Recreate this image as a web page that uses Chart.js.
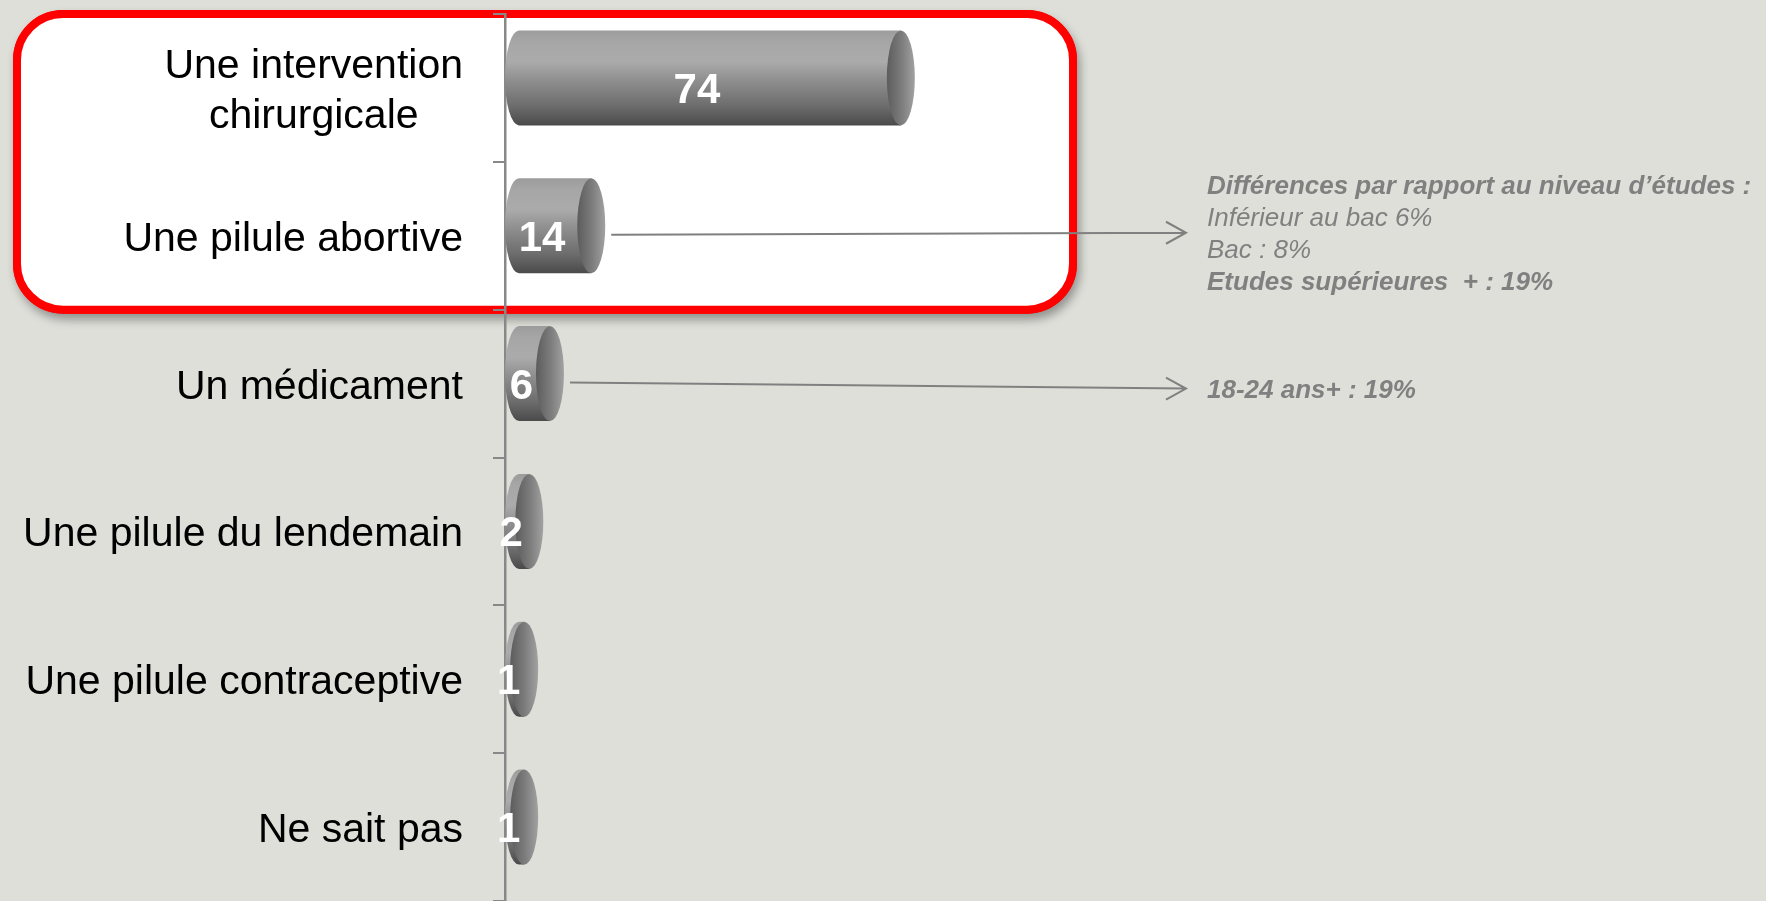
<!DOCTYPE html>
<html>
<head>
<meta charset="utf-8">
<style>
  html, body { margin: 0; padding: 0; background: #dfdfda; overflow: hidden; }
</style>
<script src="https://cdn.jsdelivr.net/npm/chart.js"></script>
</head>
<body>
<canvas id="myChart" width="1766" height="901"></canvas>
<script>
const categories = [
  ['Une intervention', 'chirurgicale'],
  'Une pilule abortive',
  'Un médicament',
  'Une pilule du lendemain',
  'Une pilule contraceptive',
  'Ne sait pas',
];
const values = [74, 14, 6, 2, 1, 1];

// side notes, pointed at by an arrow from the bar
const noteIndexes = [1, 2];
const noteLines = [
  [
    { text: 'Différences par rapport au niveau d’études :', bold: true },
    { text: 'Inférieur au bac 6%', bold: false },
    { text: 'Bac : 8%', bold: false },
    { text: 'Etudes supérieures  + : 19%', bold: true },
  ],
  [{ text: '18-24 ans+ : 19%', bold: true }],
];

const FONT = '"Liberation Sans", Arial, sans-serif';
const BG = '#dfdfda';
const GREY = '#888888';
const NOTE = '#808080';
const ctx = document.getElementById('myChart');

// red rounded box around the first two answers
const boxPlugin = {
  id: 'box',
  beforeDraw(chart) {
    const c = chart.ctx;
    const y = chart.scales.y;
    const step = y.getPixelForValue(1) - y.getPixelForValue(0);
    const top = y.getPixelForValue(0) - step / 2;
    const bot = y.getPixelForValue(1) + step / 2;
    const left = 17, right = 1073, r = 46;
    c.save();
    c.fillStyle = BG;
    c.fillRect(0, 0, chart.width, chart.height);
    c.shadowColor = 'rgba(0,0,0,0.35)';
    c.shadowBlur = 10;
    c.shadowOffsetX = 3;
    c.shadowOffsetY = 6;
    c.beginPath();
    c.roundRect(left - 4, top - 4, right - left + 8, bot - top + 8, r + 4);
    c.fillStyle = '#ff0000';
    c.fill();
    c.shadowColor = 'transparent';
    c.beginPath();
    c.roundRect(left, top, right - left, bot - top, r);
    c.fillStyle = '#ffffff';
    c.fill();
    c.lineWidth = 8;
    c.strokeStyle = '#ff0000';
    c.stroke();
    c.restore();
  },
};

// bars drawn as lying cylinders
const cylinderPlugin = {
  id: 'cylinder',
  afterDatasetsDraw(chart) {
    const c = chart.ctx;
    const meta = chart.getDatasetMeta(0);
    const rx = 14;
    c.save();
    meta.data.forEach((el) => {
      const { x, y, base, height } = el.getProps(['x', 'y', 'base', 'height'], true);
      const top = y - height / 2 - 10;
      const bot = top + height;
      const cy = top + height / 2;
      const ry = height / 2;

      const g = c.createLinearGradient(0, top, 0, bot);
      g.addColorStop(0, '#9c9c9c');
      g.addColorStop(0.12, '#a6a6a6');
      g.addColorStop(0.33, '#ababab');
      g.addColorStop(0.5, '#929292');
      g.addColorStop(0.8, '#6c6c6c');
      g.addColorStop(1, '#4a4a4a');
      c.beginPath();
      c.moveTo(base + rx, top);
      c.lineTo(x + rx, top);
      c.lineTo(x + rx, bot);
      c.lineTo(base + rx, bot);
      c.ellipse(base + rx, cy, rx, ry, 0, Math.PI / 2, Math.PI * 1.5);
      c.closePath();
      c.fillStyle = g;
      c.fill();

      const g2 = c.createLinearGradient(x, 0, x + 2 * rx, 0);
      g2.addColorStop(0, '#5c5c5c');
      g2.addColorStop(0.55, '#7e7e7e');
      g2.addColorStop(1, '#a2a2a2');
      c.beginPath();
      c.ellipse(x + rx, cy, rx, ry, 0, 0, Math.PI * 2);
      c.fillStyle = g2;
      c.fill();
    });
    c.restore();
  },
};

// category labels, value labels, notes and arrows
const textPlugin = {
  id: 'texts',
  afterDraw(chart) {
    const c = chart.ctx;
    const yScale = chart.scales.y;
    const area = chart.chartArea;
    const meta = chart.getDatasetMeta(0);
    c.save();

    const labelRight = area.left - 42;
    c.font = '41px ' + FONT;
    c.fillStyle = '#000000';
    c.textAlign = 'center';
    categories.forEach((cat, i) => {
      const lines = Array.isArray(cat) ? cat : [cat];
      const w = Math.max(...lines.map((l) => c.measureText(l).width));
      const yc = yScale.getPixelForValue(i);
      lines.forEach((l, j) => {
        const yy = yc + (j - (lines.length - 1) / 2) * 50;
        c.fillText(l, labelRight - w / 2, yy + 15);
      });
    });

    c.font = 'bold 42px ' + FONT;
    c.fillStyle = '#ffffff';
    meta.data.forEach((el, i) => {
      const { x, base } = el.getProps(['x', 'base'], true);
      const yc = yScale.getPixelForValue(i);
      c.fillText(String(values[i]), (x + base) / 2 + 1, yc + 15);
    });

    const arrowEnd = 1186;
    const slopes = [-2, 6];
    c.strokeStyle = NOTE;
    c.fillStyle = NOTE;
    c.lineWidth = 2;
    c.textAlign = 'left';
    noteIndexes.forEach((idx, n) => {
      const el = meta.data[idx];
      const { x } = el.getProps(['x'], true);
      const y0 = yScale.getPixelForValue(idx) - 1;
      const y1 = y0 + slopes[n];
      c.beginPath();
      c.moveTo(x + 34, y0);
      c.lineTo(arrowEnd, y1);
      c.moveTo(arrowEnd - 20, y1 - 11);
      c.lineTo(arrowEnd, y1);
      c.lineTo(arrowEnd - 20, y1 + 11);
      c.stroke();

      const lines = noteLines[n];
      lines.forEach((ln, j) => {
        c.font = (ln.bold ? 'italic bold ' : 'italic ') + '26px ' + FONT;
        const yy = y1 + (j - (lines.length - 1) / 2) * 32;
        c.fillText(ln.text, 1207, yy + 9);
      });
    });
    c.restore();
  },
};

new Chart(ctx, {
  type: 'bar',
  data: {
    labels: categories,
    datasets: [
      {
        data: values,
        backgroundColor: 'rgba(0,0,0,0)',
        borderWidth: 0,
        categoryPercentage: 1,
        barPercentage: 0.643,
      },
    ],
  },
  options: {
    indexAxis: 'y',
    responsive: false,
    animation: false,
    devicePixelRatio: 1,
    layout: {
      padding: { top: 14, bottom: 0, left: 0, right: 745 },
    },
    plugins: {
      legend: { display: false },
      tooltip: { enabled: false },
    },
    scales: {
      x: {
        display: false,
        min: 0,
        max: 100,
      },
      y: {
        position: 'left',
        offset: true,
        afterFit: (scale) => {
          scale.width = 505;
        },
        grid: {
          offset: true,
          drawOnChartArea: false,
          drawTicks: true,
          tickLength: 12,
          color: GREY,
          lineWidth: 2,
        },
        border: {
          display: true,
          color: GREY,
          width: 2.5,
        },
        ticks: {
          display: false,
        },
      },
    },
  },
  plugins: [boxPlugin, cylinderPlugin, textPlugin],
});
</script>
</body>
</html>
